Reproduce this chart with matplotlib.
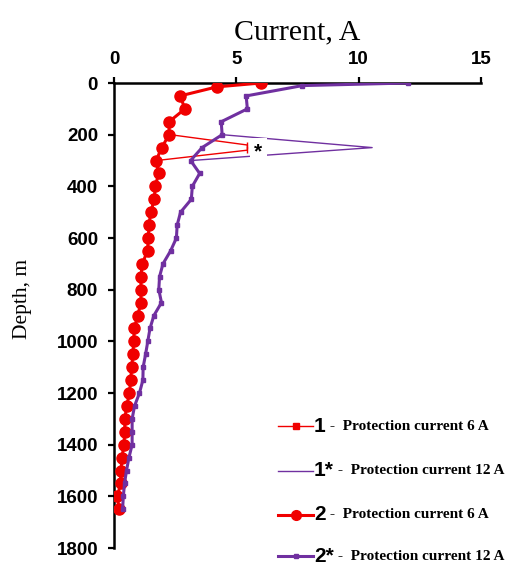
import matplotlib.pyplot as plt
from matplotlib.lines import Line2D

# series 2 - protection current 6 A (red, thick, circles)
depth_2 = [0, 15, 50, 100, 150, 200, 250, 300, 350, 400, 450, 500, 550, 600, 650,
           700, 750, 800, 850, 900, 950, 1000, 1050, 1100, 1150, 1200, 1250, 1300,
           1350, 1400, 1450, 1500, 1550, 1600, 1650]
current_2 = [6.0, 4.2, 2.7, 2.9, 2.25, 2.25, 1.95, 1.72, 1.83, 1.68, 1.65, 1.5, 1.43,
             1.40, 1.37, 1.15, 1.1, 1.1, 1.1, 0.97, 0.83, 0.8, 0.77, 0.72, 0.68, 0.63,
             0.52, 0.44, 0.44, 0.40, 0.33, 0.28, 0.27, 0.14, 0.2]

# series 2* - protection current 12 A (purple, thick, squares)
depth_2s = [0, 10, 50, 100, 150, 200, 250, 300, 350, 400, 450, 500, 550, 600, 650,
            700, 750, 800, 850, 900, 950, 1000, 1050, 1100, 1150, 1200, 1250, 1300,
            1350, 1400, 1450, 1500, 1550, 1600, 1650]
current_2s = [12.0, 7.7, 5.4, 5.45, 4.38, 4.42, 3.6, 3.13, 3.5, 3.2, 3.16, 2.72, 2.58,
              2.55, 2.31, 2.0, 1.86, 1.83, 1.94, 1.63, 1.47, 1.38, 1.29, 1.19, 1.18,
              1.04, 0.84, 0.74, 0.74, 0.74, 0.61, 0.51, 0.43, 0.38, 0.35]

# series 1 / 1* - only the spike part differs
depth_1 = [200, 240, 260, 300]
current_1 = [2.3, 5.45, 5.45, 1.75]
depth_1s = [200, 250, 300]
current_1s = [4.42, 10.55, 3.16]

red = '#f00000'
purple = '#7030a0'

fig = plt.figure(figsize=(5.12, 5.67), dpi=100)
ax = fig.add_axes([0.2227, 0.0335, 0.7168, 0.8201])

ax.plot(current_1, depth_1, color=red, lw=1.0, marker='|', ms=5, mew=1.0, zorder=3)
ax.plot(current_1s, depth_1s, color=purple, lw=1.0, zorder=3)
ax.plot(current_2, depth_2, color=red, lw=2.2, marker='o', ms=8, zorder=4)
ax.plot(current_2s, depth_2s, color=purple, lw=2.2, marker='s', ms=3.5, zorder=5)

ax.text(5.9, 265, '*', fontsize=15, fontweight='bold', family='Liberation Sans',
        ha='center', va='center', zorder=6,
        bbox=dict(facecolor='white', edgecolor='none', pad=3))

ax.set_xlim(0, 15)
ax.set_ylim(1800, 0)
ax.set_xticks([0, 5, 10, 15])
ax.set_yticks(range(0, 1801, 200))
ax.xaxis.tick_top()
ax.xaxis.set_label_position('top')
for s in ['right', 'bottom']:
    ax.spines[s].set_visible(False)
for s in ['left', 'top']:
    ax.spines[s].set_linewidth(1.8)
ax.tick_params(axis='both', direction='out', length=4.5, width=1.6,
               labelsize=13.5, colors='black')
ax.tick_params(axis='x', pad=6)
ax.tick_params(axis='y', pad=7)
for lab in ax.get_xticklabels() + ax.get_yticklabels():
    lab.set_fontweight('bold')
    lab.set_family('Liberation Sans')

ax.set_xlabel('Current, A', family='Liberation Serif', fontsize=21.5, labelpad=9)
ax.set_ylabel('Depth, m', family='Liberation Serif', fontsize=15.5)
ax.yaxis.set_label_coords(-0.223, 0.535)

# legend rows drawn by hand
rows = [
    ('1', 'Protection current 6 A', dict(color=red, lw=1.0, marker='s', ms=4)),
    ('1*', 'Protection current 12 A', dict(color=purple, lw=1.0)),
    ('2', 'Protection current 6 A', dict(color=red, lw=2.2, marker='o', ms=7)),
    ('2*', 'Protection current 12 A', dict(color=purple, lw=2.2, marker='s', ms=3.5)),
]
row_y = [1 - 426 / 567, 1 - 471 / 567, 1 - 515 / 567, 1 - 556 / 567]
x0, x1 = 278 / 512, 313 / 512
for (num, desc, style), y in zip(rows, row_y):
    fig.add_artist(Line2D([x0, (x0 + x1) / 2, x1], [y, y, y], markevery=[1], **style))
    t = fig.text(x1 + 1 / 512, y, num, fontsize=15, fontweight='bold',
                 family='Liberation Sans', ha='left', va='center')
    ax.annotate('-  ' + desc, xy=(1, 0.5), xycoords=t, xytext=(3, 0),
                textcoords='offset points', ha='left', va='center',
                fontsize=11, fontweight='bold', family='Liberation Serif',
                annotation_clip=False)

fig.savefig('out.png', dpi=100)
